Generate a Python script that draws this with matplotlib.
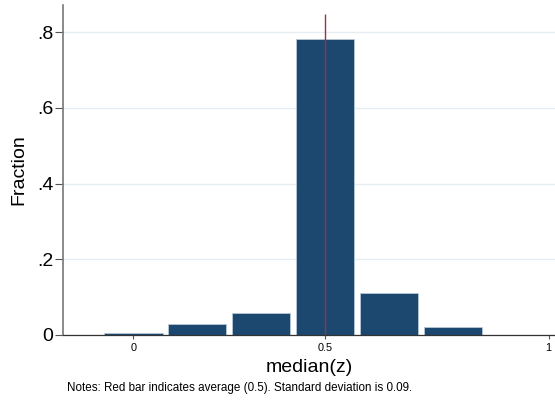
import matplotlib
matplotlib.use("Agg")
import matplotlib.pyplot as plt

# histogram of median(z): bin centres and fraction per bin
bin_centers = [0.0, 1 / 6, 2 / 6, 3 / 6, 4 / 6, 5 / 6]
fractions = [0.005, 0.029, 0.057, 0.783, 0.112, 0.020]
mean_z = 0.5
mean_line_top = 0.848

y_ticks = [0, 0.2, 0.4, 0.6, 0.8]
y_labels = ["0", ".2", ".4", ".6", ".8"]
x_ticks = [0, 0.5, 1.084]
x_labels = ["0", "0.5", "1"]

plt.rcParams["font.family"] = ["Liberation Sans", "DejaVu Sans"]

fig = plt.figure(figsize=(5.55, 4.01), dpi=100)
ax = fig.add_axes([0.1135, 0.1646, 0.8865, 0.823])

ax.set_axisbelow(True)
ax.yaxis.grid(True, color="#e6eef1", linewidth=1.0)
ax.bar(bin_centers, fractions, width=0.152, color="#1c4870",
       edgecolor="#b8c8d8", linewidth=0.6, zorder=2)
ax.vlines(mean_z, 0, mean_line_top, color="#9b3040", linewidth=1.0, zorder=3)

ax.set_xlim(-0.184, 1.1005)
ax.set_ylim(0, 0.872)
ax.set_yticks(y_ticks)
ax.set_yticklabels(y_labels, fontsize=14)
ax.set_xticks(x_ticks)
ax.set_xticklabels(x_labels, fontsize=7.8)
ax.tick_params(axis="y", length=6, width=0.8, color="#555555", pad=1)
ax.tick_params(axis="x", length=3, width=0.8, color="#555555", pad=3)

for s in ["top", "right"]:
    ax.spines[s].set_visible(False)
ax.spines["left"].set_color("#777777")
ax.spines["left"].set_linewidth(1.2)
ax.spines["bottom"].set_color("#333333")
ax.spines["bottom"].set_linewidth(0.9)

ax.set_ylabel("Fraction", fontsize=14, labelpad=7)
ax.set_xlabel("median(z)", fontsize=14, labelpad=4)

fig.text(0.12, 0.025, "Notes: Red bar indicates average (0.5). Standard deviation is 0.09.",
         fontsize=8.4, ha="left", va="baseline")

fig.savefig("out.png", dpi=100)
